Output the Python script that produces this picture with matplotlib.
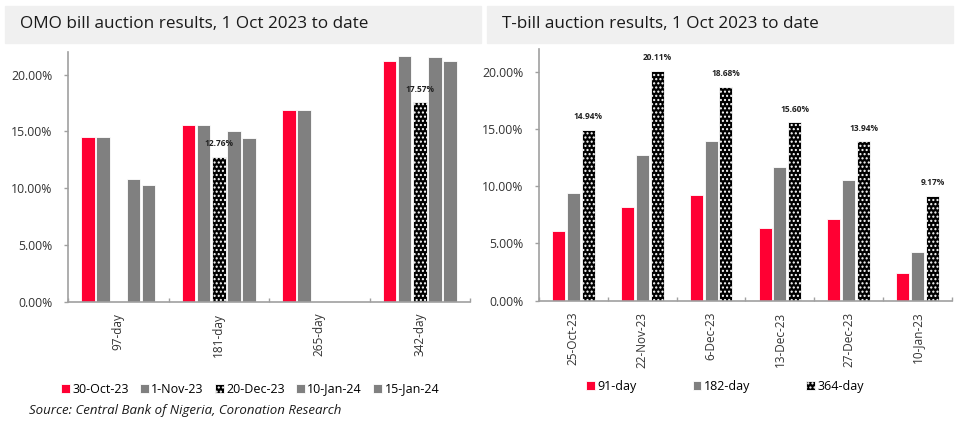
import numpy as np
import matplotlib
matplotlib.use("Agg")
from matplotlib import pyplot as plt
from matplotlib.patches import Rectangle
from matplotlib.ticker import FuncFormatter, FixedLocator

plt.rcParams['font.family'] = ['Open Sans', 'DejaVu Sans']
plt.rcParams['hatch.linewidth'] = 1.0

nan = np.nan

# OMO bill auctions (left chart)
omo_tenors = ['97-day', '181-day', '265-day', '342-day']
omo_dates = ['30-Oct-23', '1-Nov-23', '20-Dec-23', '10-Jan-24', '15-Jan-24']
omo_30oct = [14.5, 15.6, 16.85, 21.25]
omo_1nov = [14.5, 15.55, 16.85, 21.65]
omo_20dec = [nan, 12.76, nan, 17.57]
omo_10jan = [10.85, 15.0, nan, 21.6]
omo_15jan = [10.25, 14.45, nan, 21.25]

# T-bill auctions (right chart)
tb_dates = ['25-Oct-23', '22-Nov-23', '6-Dec-23', '13-Dec-23', '27-Dec-23', '10-Jan-23']
tb_tenors = ['91-day', '182-day', '364-day']
tb_91 = [6.05, 8.15, 9.2, 6.32, 7.1, 2.38]
tb_182 = [9.42, 12.77, 13.94, 11.68, 10.52, 4.28]
tb_364 = [14.94, 20.11, 18.68, 15.60, 13.94, 9.17]

RED = '#ff0033'
GREY = '#808080'
AXC = '#a0a0a0'

fig = plt.figure(figsize=(9.59, 4.23), dpi=100)

# title boxes
W, H = 959, 423
def title_box(x0, x1, text):
    fig.patches.append(Rectangle((x0 / W, 1 - 43 / H), (x1 - x0) / W, 37 / H,
                                 transform=fig.transFigure, color='#f0f0f0', zorder=0))
    fig.text((x0 + 15) / W, 1 - 24.5 / H, text, fontsize=12.3, va='center', ha='left', color='#1a1a1a')

title_box(5, 481, 'OMO bill auction results, 1 Oct 2023 to date')
title_box(487, 953, 'T-bill auction results, 1 Oct 2023 to date')

pct = FuncFormatter(lambda v, p: '%.2f%%' % v)


def style_axes(ax, ncat):
    for s in ['top', 'right']:
        ax.spines[s].set_visible(False)
    for s in ['left', 'bottom']:
        ax.spines[s].set_color(AXC)
        ax.spines[s].set_linewidth(1.2)
    ax.set_ylim(0, 22)
    ax.set_yticks([0, 5, 10, 15, 20])
    ax.yaxis.set_major_formatter(pct)
    ax.tick_params(axis='y', labelsize=8.8, colors=AXC, labelcolor='#333333', length=3, width=1, pad=8)
    ax.set_xlim(-0.5, ncat - 0.5)
    ax.xaxis.set_minor_locator(FixedLocator(np.arange(ncat + 1) - 0.5))
    ax.tick_params(axis='x', which='major', length=0, labelsize=8.5, labelcolor='#333333', rotation=90, pad=8)
    ax.tick_params(axis='x', which='minor', length=3, width=1, colors=AXC, direction='in')


def label_bars(ax, xs, vals):
    for x, v in zip(xs, vals):
        if np.isnan(v):
            continue
        ax.annotate('%.2f%%' % v, (x, v), xytext=(0, 9.5), textcoords='offset points',
                    ha='center', va='center', fontsize=6, fontweight='bold', color='#222222')


# left chart
ax1 = fig.add_axes([68 / W, 1 - 301.7 / H, 402 / W, 249.7 / H])
x = np.arange(len(omo_tenors))
series = [omo_30oct, omo_1nov, omo_20dec, omo_10jan, omo_15jan]
colors = [RED, GREY, 'black', GREY, GREY]
for i, (vals, c, lab) in enumerate(zip(series, colors, omo_dates)):
    xs = x + (i - 2) * 0.15
    if c == 'black':
        ax1.bar(xs, vals, 0.135, color='black', edgecolor='white', hatch='....', linewidth=0.6, label=lab)
        label_bars(ax1, xs, vals)
    else:
        ax1.bar(xs, vals, 0.135, color=c, edgecolor='white', linewidth=0.6, label=lab)
ax1.set_xticks(x)
ax1.set_xticklabels(omo_tenors)
style_axes(ax1, len(omo_tenors))
ax1.legend(loc='center', bbox_to_anchor=(250 / W, 1 - 389 / H), bbox_transform=fig.transFigure,
           ncol=5, frameon=False, fontsize=9, handlelength=0.7, handleheight=0.7,
           handletextpad=0.2, columnspacing=0.9, borderaxespad=0)

# right chart
ax2 = fig.add_axes([539 / W, 1 - 300.7 / H, 413 / W, 251.7 / H])
x = np.arange(len(tb_dates))
series = [tb_91, tb_182, tb_364]
colors = [RED, GREY, 'black']
for i, (vals, c, lab) in enumerate(zip(series, colors, tb_tenors)):
    xs = x + (i - 1) * 0.215
    if c == 'black':
        ax2.bar(xs, vals, 0.19, color='black', edgecolor='white', hatch='....', linewidth=0.6, label=lab)
        label_bars(ax2, xs, vals)
    else:
        ax2.bar(xs, vals, 0.19, color=c, edgecolor='white', linewidth=0.6, label=lab)
ax2.set_xticks(x)
ax2.set_xticklabels(tb_dates)
style_axes(ax2, len(tb_dates))
ax2.legend(loc='center', bbox_to_anchor=(725 / W, 1 - 386 / H), bbox_transform=fig.transFigure,
           ncol=3, frameon=False, fontsize=9, handlelength=0.7, handleheight=0.7,
           handletextpad=0.2, columnspacing=4.5, borderaxespad=0)

fig.text(29 / W, 1 - 410 / H, 'Source: Central Bank of Nigeria, Coronation Research',
         fontsize=9.5, style='italic', va='center', ha='left', color='#1a1a1a')

fig.savefig('out.png', dpi=100)
